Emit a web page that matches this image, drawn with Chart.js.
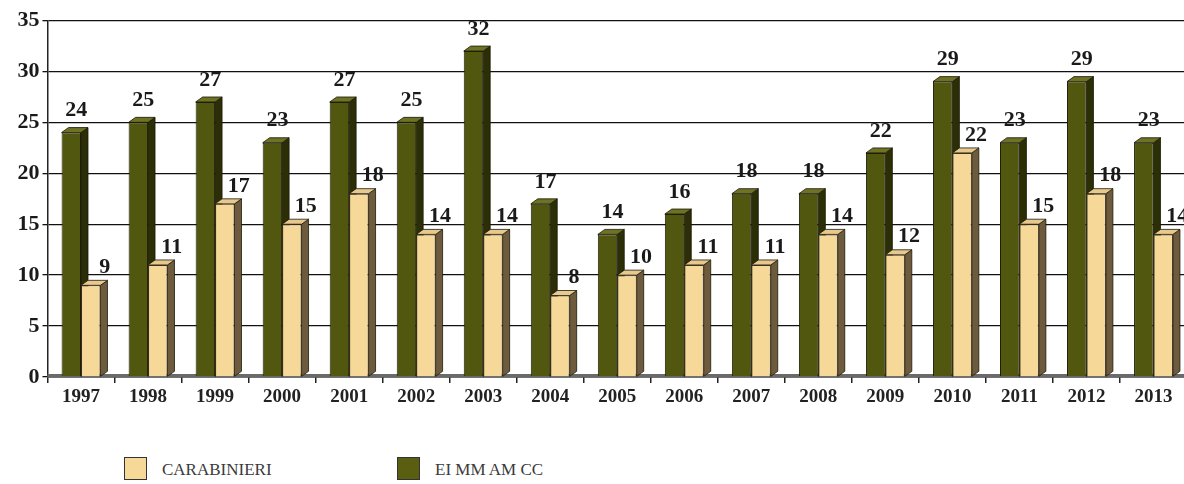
<!DOCTYPE html>
<html>
<head>
<meta charset="utf-8">
<script src="https://cdn.jsdelivr.net/npm/chart.js@4/dist/chart.umd.min.js"></script>
<style>
  html, body { margin: 0; padding: 0; background: #fff; overflow: hidden; width: 1184px; height: 484px; }
  #wrap { position: absolute; left: 0; top: 0; width: 1190px; height: 420px; }
  .leg { position: absolute; top: 457px; font-family: "Liberation Serif", serif; font-size: 17px; color: #3a3a3a; }
  .leg span.box { position: absolute; left: 0; top: 0; width: 21px; height: 21px; border: 1px solid #333; }
  .leg span.txt { position: absolute; left: 38px; top: 3px; white-space: nowrap; }
</style>
</head>
<body>
<div id="wrap"><canvas id="bars"></canvas></div>
<div class="leg" style="left:124px"><span class="box" style="background:#f6d898"></span><span class="txt">CARABINIERI</span></div>
<div class="leg" style="left:397px"><span class="box" style="background:#5a5e10"></span><span class="txt">EI MM AM CC</span></div>
<script>
var years = ["1997","1998","1999","2000","2001","2002","2003","2004","2005","2006","2007","2008","2009","2010","2011","2012","2013"];
var eiMmAmCc = [24,25,27,23,27,25,32,17,14,16,18,18,22,29,23,29,23];
var carabinieri = [9,11,17,15,18,14,14,8,10,11,11,14,12,22,15,18,14];
var yTicks = [0,5,10,15,20,25,30,35];

var faces = [
    { side: '#2c2e06', top: '#6e7222' },
    { side: '#6e5a3c', top: '#e8c88c' }
];

// fake 3D: side and top faces behind the library's bars
var depth3d = {
    id: 'depth3d',
    beforeDatasetsDraw: function(chart) {
        var ctx = chart.ctx;
        var d = 7, dy = 5;
        var area = chart.chartArea;
        ctx.save();
        ctx.fillStyle = '#6a6a6a';
        ctx.fillRect(area.left, area.bottom - 3, area.right - area.left, 3);
        var n = years.length;
        for (var i = 0; i < n; i++) {
            for (var k = 0; k < 2; k++) {
                var el = chart.getDatasetMeta(k).data[i];
                var l = el.x - el.width / 2, r = el.x + el.width / 2;
                ctx.strokeStyle = '#1a1a0a';
                ctx.lineWidth = 0.8;
                ctx.beginPath();
                ctx.moveTo(r, el.y); ctx.lineTo(r + d, el.y - dy);
                ctx.lineTo(r + d, el.base - dy); ctx.lineTo(r, el.base);
                ctx.closePath();
                ctx.fillStyle = faces[k].side; ctx.fill(); ctx.stroke();
                ctx.beginPath();
                ctx.moveTo(l, el.y); ctx.lineTo(l + d, el.y - dy);
                ctx.lineTo(r + d, el.y - dy); ctx.lineTo(r, el.y);
                ctx.closePath();
                ctx.fillStyle = faces[k].top; ctx.fill(); ctx.stroke();
            }
        }
        ctx.restore();
    },
    afterDatasetsDraw: function(chart) {
        var ctx = chart.ctx;
        ctx.save();
        ctx.font = 'bold 22px "Liberation Serif"';
        ctx.fillStyle = '#1a1a1a';
        ctx.textAlign = 'center';
        ctx.textBaseline = 'middle';
        chart.data.datasets.forEach(function(ds, k) {
            chart.getDatasetMeta(k).data.forEach(function(el, i) {
                if (k === 0) ctx.fillText(ds.data[i], el.x + 5, el.y - 22);
                else ctx.fillText(ds.data[i], el.x + 14, el.y - 18);
            });
        });
        ctx.restore();
    }
};

new Chart(document.getElementById('bars'), {
    type: 'bar',
    data: {
        labels: years,
        datasets: [{
            label: 'EI MM AM CC',
            data: eiMmAmCc,
            backgroundColor: '#525710',
            borderColor: '#1e1e0a',
            borderWidth: 1
        }, {
            label: 'CARABINIERI',
            data: carabinieri,
            backgroundColor: '#f6d898',
            borderColor: '#3a3020',
            borderWidth: 1
        }]
    },
    options: {
        responsive: true,
        maintainAspectRatio: false,
        animation: false,
        categoryPercentage: 0.58,
        barPercentage: 1.0,
        layout: { padding: { top: 20.5, right: 3, left: 0, bottom: 0 } },
        plugins: {
            legend: { display: false },
            title: { display: false },
            tooltip: { enabled: false }
        },
        scales: {
            x: {
                offset: true,
                grid: { display: true, drawOnChartArea: false, offset: true, tickLength: 6, color: '#222', lineWidth: 1.5 },
                border: { display: true, color: '#222', width: 1.5 },
                ticks: { color: '#222', font: { family: 'Liberation Serif', size: 19, weight: 'bold' }, padding: 3, maxRotation: 0, autoSkip: false },
                afterFit: function(scale) { scale.height = 43; }
            },
            y: {
                min: 0,
                max: 35,
                afterBuildTicks: function(scale) { scale.ticks = yTicks.map(function(v) { return { value: v }; }); },
                grid: { color: '#111', lineWidth: 1.3, tickLength: 5 },
                border: { display: true, color: '#222', width: 1.5 },
                ticks: { color: '#1a1a1a', font: { family: 'Liberation Serif', size: 22, weight: 'bold' }, padding: 3 },
                afterFit: function(scale) { scale.width = 47.5; }
            }
        }
    },
    plugins: [depth3d]
});
</script>
</body>
</html>
